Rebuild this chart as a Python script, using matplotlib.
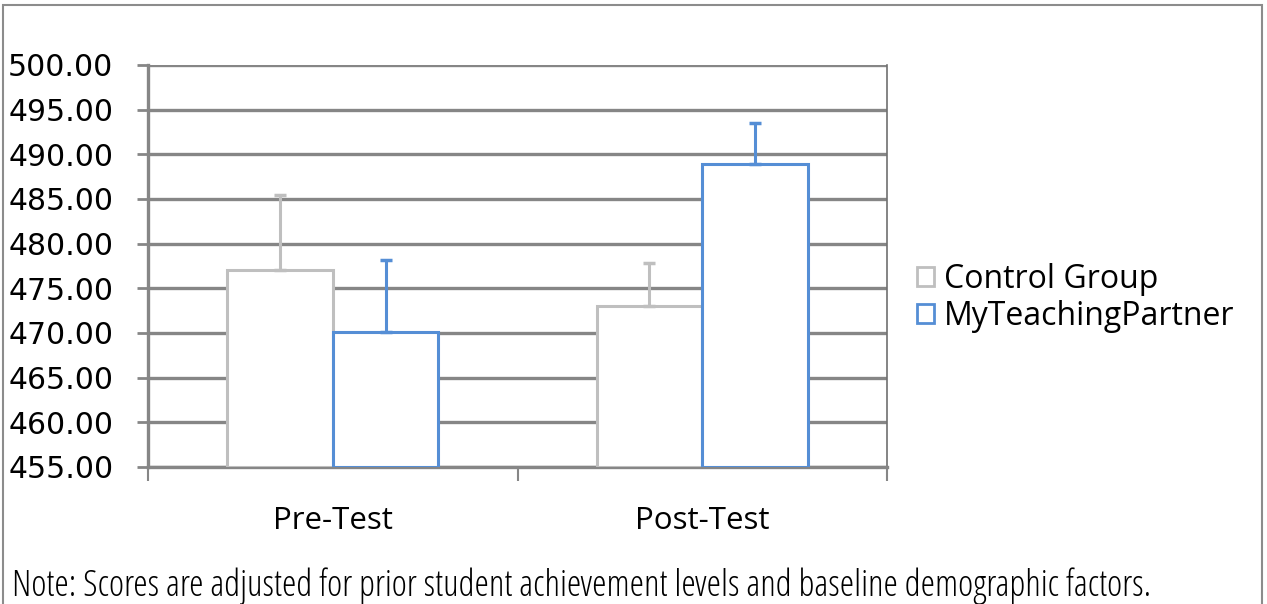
import numpy as np
import matplotlib
matplotlib.use('Agg')
import matplotlib.pyplot as plt
from matplotlib.patches import Rectangle, Patch

categories = ['Pre-Test', 'Post-Test']
series = ['Control Group', 'MyTeachingPartner']
control = [477.1, 473.0]
control_err = [8.3, 4.8]
mtp = [470.1, 488.9]
mtp_err = [8.1, 4.6]
yticks = [455, 460, 465, 470, 475, 480, 485, 490, 495, 500]
note = 'Note: Scores are adjusted for prior student achievement levels and baseline demographic factors.'

grey = '#BFBFBF'
blue = '#558ED5'
gridc = '#868686'

fig = plt.figure(figsize=(12.67, 6.04), dpi=100)
ax = fig.add_axes([148 / 1267, 137 / 604, 739 / 1267, 402 / 604])

# outer frame of the chart object
fig.patches.append(Rectangle((3 / 1267, -0.1), 1259 / 1267, 1.1 - 5 / 604,
                             transform=fig.transFigure, fill=False,
                             edgecolor='#8C8C8C', linewidth=1.5))

x = np.arange(len(categories))
w = 1 / 3.5
bottom = yticks[0]

ax.bar(x - w / 2, np.array(control) - bottom, w, bottom=bottom, color='white',
       edgecolor=grey, linewidth=2.2, zorder=3)
ax.bar(x + w / 2, np.array(mtp) - bottom, w, bottom=bottom, color='white',
       edgecolor=blue, linewidth=2.2, zorder=3)
ax.errorbar(x - w / 2, control, yerr=[np.zeros(2), control_err], fmt='none',
            ecolor=grey, elinewidth=2.2, capsize=4.5, capthick=2.5, zorder=4)
ax.errorbar(x + w / 2, mtp, yerr=[np.zeros(2), mtp_err], fmt='none',
            ecolor=blue, elinewidth=2.2, capsize=4.5, capthick=2.5, zorder=4)

ax.set_xlim(-0.5, 1.5)
ax.set_ylim(455, 500)
ax.set_yticks(yticks)
ax.set_yticklabels([f'{v:.2f}' for v in yticks], fontsize=21.5, family='DejaVu Sans')
ax.yaxis.grid(True, color=gridc, linewidth=2.4, zorder=0)
ax.set_axisbelow(True)
ax.tick_params(axis='y', length=8, width=2, color=gridc, pad=17)

ax.set_xticks([-0.5, 0.5, 1.5])
ax.set_xticklabels([])
ax.tick_params(axis='x', length=10, width=1.5, color=gridc)
ax.set_xticks(x, minor=True)
ax.set_xticklabels(categories, minor=True, fontsize=22.5, family='Open Sans')
ax.tick_params(axis='x', which='minor', length=0, pad=28)

for s in ['left', 'bottom']:
    ax.spines[s].set_color(gridc)
    ax.spines[s].set_linewidth(2.4)
ax.spines['top'].set_visible(False)
ax.spines['right'].set_color('#707070')
ax.spines['right'].set_linewidth(1.2)

handles = [Patch(facecolor='white', edgecolor=grey, linewidth=2),
           Patch(facecolor='white', edgecolor=blue, linewidth=2)]
fig.legend(handles, series, loc='center left', bbox_to_anchor=(888 / 1267, 1 - 298 / 604),
           frameon=False, handlelength=0.55, handleheight=0.55,
           handletextpad=0.3, labelspacing=0.12, prop={'family': 'Open Sans', 'size': 23})

t = fig.text(12 / 1267, 1 - 586 / 604, note, fontsize=20, family='Open Sans',
             fontstretch='condensed', va='center', ha='left')
# fit the note to the width it takes in the reference
fig.canvas.draw()
width = t.get_window_extent().width
t.set_fontsize(20 * 1136 / width)

fig.savefig('out.png', dpi=100)
